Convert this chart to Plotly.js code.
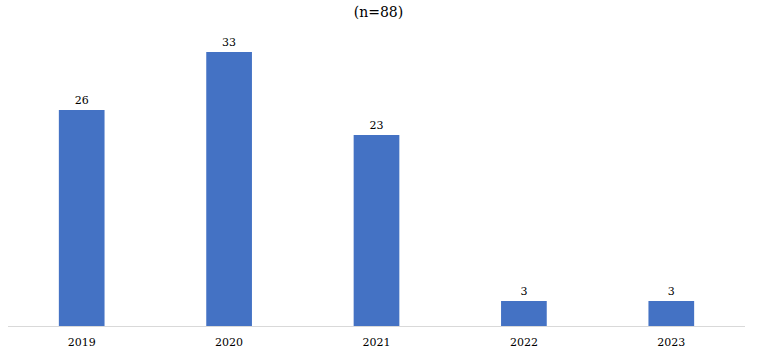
<!DOCTYPE html>
<html><head><meta charset="utf-8">
<script src="https://cdn.plot.ly/plotly-3.0.1.min.js"></script>
<style>html,body{margin:0;padding:0;background:#fff;}#chart{width:757px;height:350px;}</style>
</head><body><div id="chart"></div>
<script>
const years = ['2019', '2020', '2021', '2022', '2023'];
const counts = [26, 33, 23, 3, 3];
const chartTitle = '(n=88)';

const trace = {
  type: 'bar',
  x: years,
  y: counts,
  marker: {color: '#4472C4'},
  text: counts.map(String),
  textposition: 'outside',
  cliponaxis: false,
  textfont: {family: 'DejaVu Serif', size: 11, color: '#000000'},
  hoverinfo: 'none'
};

const layout = {
  width: 757, height: 350,
  margin: {l: 8, r: 12, t: 27, b: 24},
  paper_bgcolor: '#ffffff', plot_bgcolor: '#ffffff',
  bargap: 0.69,
  showlegend: false,
  title: {text: chartTitle, x: 0.5, xanchor: 'center', y: 0.965, yanchor: 'middle',
          font: {family: 'DejaVu Serif', size: 14, color: '#000000'}},
  xaxis: {type: 'category', showgrid: false, showline: true, linecolor: '#D9D9D9', linewidth: 1,
          ticks: '', ticklabelstandoff: 6,
          tickfont: {family: 'DejaVu Serif', size: 11, color: '#000000'}, zeroline: false},
  yaxis: {range: [0, 36], visible: false, showgrid: false, zeroline: false}
};

Plotly.newPlot('chart', [trace], layout, {staticPlot: true, displayModeBar: false});
</script></body></html>
